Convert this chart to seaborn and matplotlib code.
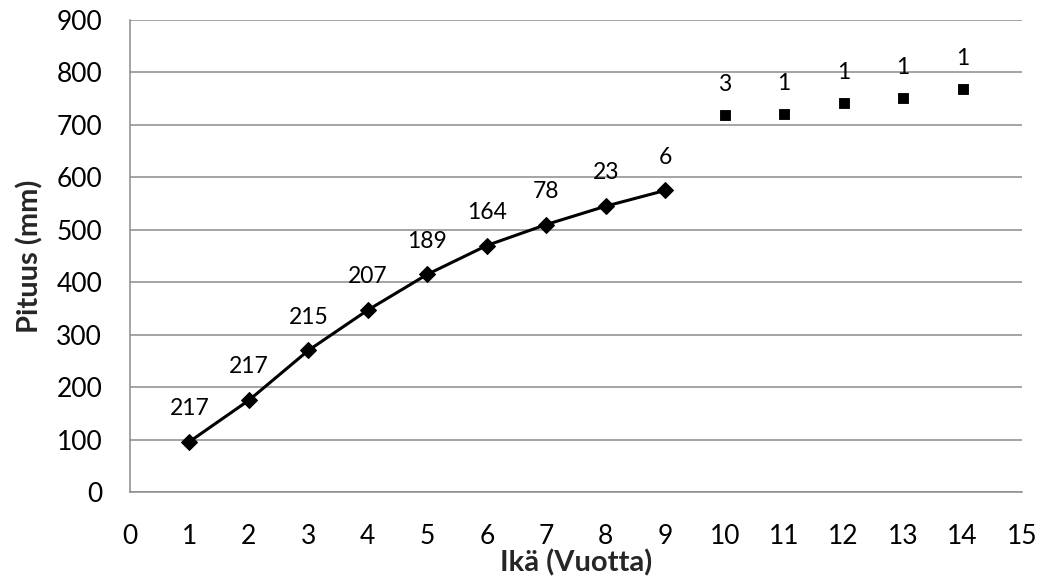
import matplotlib
matplotlib.use("Agg")
import matplotlib.pyplot as plt
import seaborn as sns
import pandas as pd

# Mean length by age (years), with sample counts shown as labels
age_main = [1, 2, 3, 4, 5, 6, 7, 8, 9]
length_main = [96, 175, 270, 347, 415, 470, 510, 545, 575]
count_main = [217, 217, 215, 207, 189, 164, 78, 23, 6]

age_old = [10, 11, 12, 13, 14]
length_old = [719, 721, 742, 751, 768]
count_old = [3, 1, 1, 1, 1]

x_ticks = list(range(0, 16))
y_ticks = list(range(0, 901, 100))

sns.set_style("white")
plt.rcParams["font.family"] = ["Lato", "DejaVu Sans"]

df_main = pd.DataFrame({"age": age_main, "length": length_main})
df_old = pd.DataFrame({"age": age_old, "length": length_old})

fig = plt.figure(figsize=(10.43, 5.88), dpi=100)
ax = fig.add_axes([130 / 1043, 1 - 492 / 588, (1022 - 130) / 1043, (492 - 20) / 588])

grid_col = "#8c8c8c"
ax.set_axisbelow(True)
ax.yaxis.grid(True, color=grid_col, linewidth=1.1)
ax.xaxis.grid(False)

sns.lineplot(data=df_main, x="age", y="length", ax=ax, color="black",
             linewidth=2.2, marker="D", markersize=8, markeredgecolor="black",
             zorder=3)
sns.scatterplot(data=df_old, x="age", y="length", ax=ax, color="black",
                marker="s", s=62, edgecolor="black", zorder=3)

for x, y, c in zip(age_main, length_main, count_main):
    ax.annotate(str(c), (x, y), xytext=(0, 24), textcoords="offset points",
                ha="center", va="center", fontsize=16.5, color="black")
for x, y, c in zip(age_old, length_old, count_old):
    ax.annotate(str(c), (x, y), xytext=(0, 22), textcoords="offset points",
                ha="center", va="center", fontsize=16.5, color="black")

ax.set_xlim(0, 15)
ax.set_ylim(0, 900)
ax.set_xticks(x_ticks)
ax.set_yticks(y_ticks)
ax.tick_params(axis="both", direction="out", length=6, width=1.1,
               color=grid_col, labelsize=19, labelcolor="black")
ax.tick_params(axis="y", pad=14)
ax.tick_params(axis="x", pad=17)

for side in ["top", "right"]:
    ax.spines[side].set_visible(False)
for side in ["left", "bottom"]:
    ax.spines[side].set_color(grid_col)
    ax.spines[side].set_linewidth(1.1)

ax.set_xlabel("Ikä (Vuotta)", fontsize=21, fontweight="bold", labelpad=0)
ax.set_ylabel("Pituus (mm)", fontsize=21, fontweight="bold", labelpad=9)

fig.savefig("out.png", dpi=100)
